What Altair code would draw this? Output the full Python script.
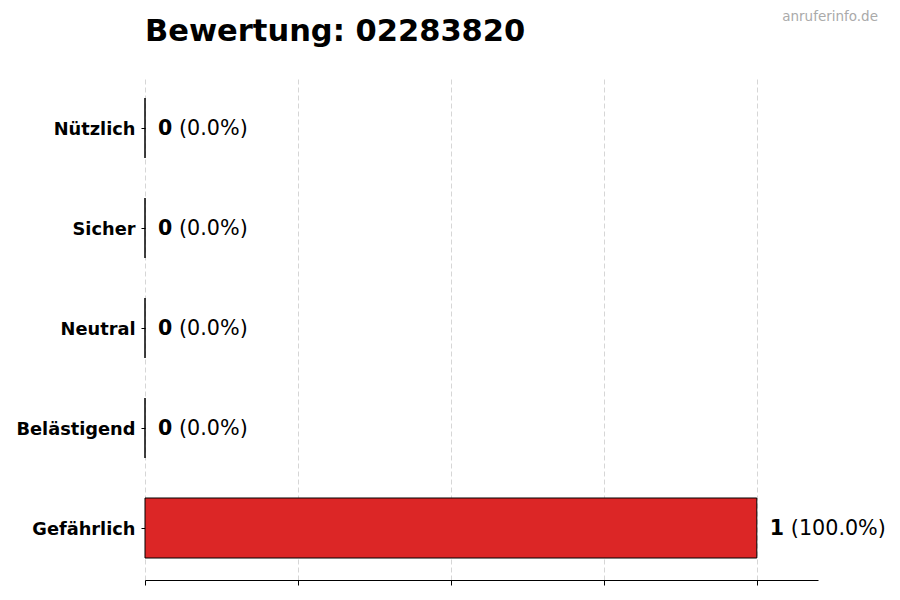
import altair as alt
import pandas as pd

categories = ["Nützlich", "Sicher", "Neutral", "Belästigend", "Gefährlich"]
counts = [0, 0, 0, 0, 1]
percents = ["(0.0%)", "(0.0%)", "(0.0%)", "(0.0%)", "(100.0%)"]
colors = ["#2ca02c", "#2ca02c", "#9e9e9e", "#ff8c00", "#dc2626"]
x_ticks = [0, 0.25, 0.5, 0.75, 1.0]
title_text = "Bewertung: 02283820"
watermark = "anruferinfo.de"

df = pd.DataFrame({
    "cat": categories,
    "count": counts,
    "pct": percents,
    "color": colors,
    "countlabel": [str(c) for c in counts],
})

FONT = "DejaVu Sans"

y_enc = alt.Y(
    "cat:N",
    sort=categories,
    scale=alt.Scale(paddingInner=0.4, paddingOuter=0.22),
    axis=alt.Axis(
        title=None,
        domain=False,
        ticks=True,
        tickSize=4,
        tickColor="black",
        labelFont=FONT,
        labelFontSize=17.8,
        labelFontWeight="bold",
        labelColor="black",
        labelPadding=6,
        labelOffset=1.5,
        grid=False,
    ),
)

x_enc = alt.X(
    "count:Q",
    scale=alt.Scale(domain=[0, 1.1], nice=False, zero=True),
    axis=alt.Axis(
        title=None,
        values=x_ticks,
        labels=False,
        domain=True,
        domainColor="black",
        domainWidth=1,
        ticks=True,
        tickSize=5,
        tickColor="black",
        grid=True,
        gridDash=[5, 3],
        gridColor="#cccccc",
        gridWidth=0.8,
    ),
)

bars = alt.Chart(df).mark_bar(stroke="black", strokeWidth=1).encode(
    x=x_enc,
    y=y_enc,
    color=alt.Color("color:N", scale=None),
)

num_text = alt.Chart(df).mark_text(
    align="left", baseline="middle", dx=13, dy=1, font=FONT, fontSize=20.5,
    fontWeight="bold", color="black",
).encode(x="count:Q", y=alt.Y("cat:N", sort=categories), text="countlabel:N")

pct_text = alt.Chart(df).mark_text(
    align="left", baseline="middle", dx=34, dy=1, font=FONT, fontSize=20.7,
    color="black",
).encode(x="count:Q", y=alt.Y("cat:N", sort=categories), text="pct:N")

wm = alt.Chart(pd.DataFrame({"t": [watermark]})).mark_text(
    align="right", baseline="middle", font=FONT, fontSize=13.5, color="#aaaaaa",
).encode(x=alt.value(733), y=alt.value(-59), text="t:N")

ttl = alt.Chart(pd.DataFrame({"t": [title_text]})).mark_text(
    align="left", baseline="alphabetic", font=FONT, fontSize=30.5,
    fontWeight="bold", color="black",
).encode(x=alt.value(0), y=alt.value(-35), text="t:N")

chart = alt.layer(bars, num_text, pct_text, wm, ttl).properties(
    width=673,
    height=504,
    padding={"left": 137, "top": 68, "right": 74, "bottom": 12},
    autosize=alt.AutoSizeParams(type="none"),
).configure_view(stroke=None)

chart.save("out.html", embed_options={"renderer": "svg", "actions": False})
